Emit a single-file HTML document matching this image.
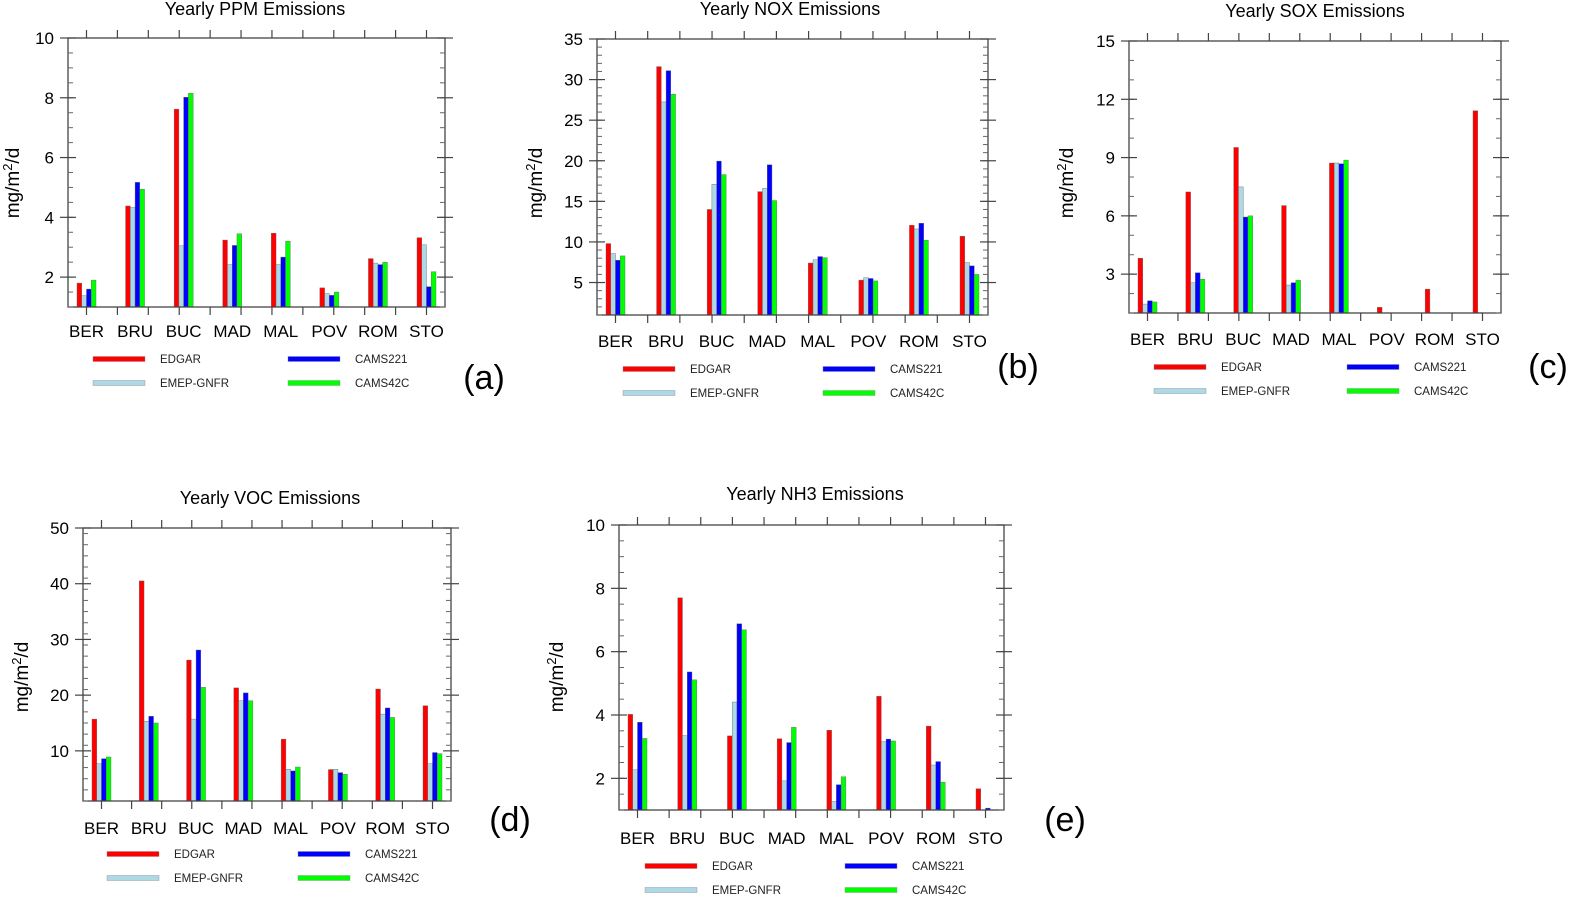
<!DOCTYPE html>
<html><head><meta charset="utf-8">
<style>
body{margin:0;background:#fff;}
svg{display:block;font-family:"Liberation Sans",sans-serif;}
</style></head>
<body>
<svg id="fig" width="1579" height="898" viewBox="0 0 1579 898" xmlns="http://www.w3.org/2000/svg"></svg>
<script>
const categories = ["BER","BRU","BUC","MAD","MAL","POV","ROM","STO"];
const seriesNames = ["EDGAR","EMEP-GNFR","CAMS221","CAMS42C"];
const seriesColors = ["#ff0000","#add8e6","#0000ff","#00ff00"];

const ppmEdgar = [1.8,4.38,7.62,3.24,3.47,1.64,2.62,3.32];
const ppmEmep  = [1.38,4.33,3.05,2.42,2.42,1.45,2.47,3.08];
const ppmC221  = [1.6,5.17,8.02,3.06,2.67,1.39,2.42,1.68];
const ppmC42   = [1.9,4.94,8.15,3.45,3.2,1.5,2.5,2.18];

const noxEdgar = [9.8,31.6,14,16.2,7.4,5.3,12.05,10.7];
const noxEmep  = [8.57,27.25,17.1,16.6,7.8,5.6,11.6,7.46];
const noxC221  = [7.75,31.1,19.96,19.5,8.2,5.5,12.3,7.05];
const noxC42   = [8.28,28.2,18.3,15.1,8.07,5.2,10.2,6.0];

const soxEdgar = [3.82,7.23,9.52,6.53,8.72,1.29,2.23,11.41];
const soxEmep  = [1.46,2.56,7.49,2.44,8.72,1,1,1.02];
const soxC221  = [1.63,3.07,5.94,2.56,8.68,1,1,1];
const soxC42   = [1.57,2.74,6.0,2.68,8.87,1,1,1];

const vocEdgar = [15.7,40.5,26.3,21.3,12.1,6.65,21.1,18.1];
const vocEmep  = [7.7,15.3,15.7,19,6.7,6.7,16.6,7.7];
const vocC221  = [8.6,16.2,28.1,20.4,6.4,6.1,17.7,9.7];
const vocC42   = [8.9,15,21.4,19,7.1,5.8,16,9.5];

const nh3Edgar = [4.02,7.7,3.34,3.25,3.52,4.59,3.65,1.67];
const nh3Emep  = [2.27,3.35,4.41,1.92,1.27,3.16,2.42,1];
const nh3C221  = [3.77,5.36,6.88,3.13,1.8,3.24,2.53,1.06];
const nh3C42   = [3.26,5.11,6.69,3.61,2.05,3.18,1.88,1];

const ppmTicks = [2,4,6,8,10];
const noxTicks = [5,10,15,20,25,30,35];
const soxTicks = [3,6,9,12,15];
const vocTicks = [10,20,30,40,50];
const nh3Ticks = [2,4,6,8,10];

const NS="http://www.w3.org/2000/svg";
const svg=document.getElementById('fig');
function mk(tag,attrs,parent){const e=document.createElementNS(NS,tag);for(const k in attrs)e.setAttribute(k,attrs[k]);(parent||svg).appendChild(e);return e;}

const panels=[
 {key:"ppm",title:"Yearly PPM Emissions",data:[ppmEdgar,ppmEmep,ppmC221,ppmC42],ticks:ppmTicks,minor:0.5,ymin:1,ymax:10,
  x0:68,x1:445,yTop:38,yBot:307,titleX:255,titleY:15,ylabX:19,ylabY:183,catY:337,legY:[359,383],legX:[93,288],tag:"(a)",tagX:484,tagY:389},
 {key:"nox",title:"Yearly NOX Emissions",data:[noxEdgar,noxEmep,noxC221,noxC42],ticks:noxTicks,minor:1,ymin:1,ymax:35,
  x0:597,x1:988,yTop:39,yBot:315,titleX:790,titleY:15,ylabX:542,ylabY:183,catY:347,legY:[369,393],legX:[623,823],tag:"(b)",tagX:1018,tagY:378},
 {key:"sox",title:"Yearly SOX Emissions",data:[soxEdgar,soxEmep,soxC221,soxC42],ticks:soxTicks,minor:1,ymin:1,ymax:15,
  x0:1129,x1:1501,yTop:41,yBot:313,titleX:1315,titleY:17,ylabX:1073,ylabY:183,catY:345,legY:[367,391],legX:[1154,1347],tag:"(c)",tagX:1548,tagY:378},
 {key:"voc",title:"Yearly VOC Emissions",data:[vocEdgar,vocEmep,vocC221,vocC42],ticks:vocTicks,minor:2,ymin:1,ymax:50,
  x0:83,x1:451,yTop:528,yBot:801,titleX:270,titleY:504,ylabX:28,ylabY:677,catY:834,legY:[854,878],legX:[107,298],tag:"(d)",tagX:510,tagY:831},
 {key:"nh3",title:"Yearly NH3 Emissions",data:[nh3Edgar,nh3Emep,nh3C221,nh3C42],ticks:nh3Ticks,minor:0.5,ymin:1,ymax:10,
  x0:619,x1:1004,yTop:525,yBot:810,titleX:815,titleY:500,ylabX:563,ylabY:677,catY:844,legY:[866,890],legX:[645,845],tag:"(e)",tagX:1065,tagY:831}
];

panels.forEach(p=>{
  const g=mk('g',{});
  
  
  const yS=v=>p.yBot-(v-p.ymin)/(p.ymax-p.ymin)*(p.yBot-p.yTop);
  const c0=p.x0+18.5, c1=p.x1-18.5;
  const xC=i=>c0+i*(c1-c0)/(categories.length-1);
  const t=mk('text',{x:p.titleX,y:p.titleY,'text-anchor':'middle','font-size':18,fill:'#000'},g);
  t.textContent=p.title;
  
  
  const bw=4.75;
  p.data.forEach((arr,s)=>{
    arr.forEach((v,i)=>{
      if(v<=p.ymin+0.001) return;
      const x=xC(i)-2*bw+s*bw;
      const r=mk('rect',{x:x,y:yS(v),width:bw,height:yS(p.ymin)-yS(v),fill:seriesColors[s],stroke:'#666','stroke-width':0.4},g);
      
      
    });
  });
  const f=mk('rect',{x:p.x0,y:p.yTop,width:p.x1-p.x0,height:p.yBot-p.yTop,fill:'none',stroke:'#444','stroke-width':1.3},g);
  
  
  const nT=12;
  for(let k=0;k<nT;k++){
    const x=c0+k*(c1-c0)/(nT-1);
    mk('line',{x1:x,x2:x,y1:p.yTop,y2:p.yTop-8,stroke:'#444','stroke-width':1.2},g);
    mk('line',{x1:x,x2:x,y1:p.yBot,y2:p.yBot+8,stroke:'#444','stroke-width':1.2},g);
  }
  for(let v=p.ymin;v<=p.ymax+1e-6;v+=p.minor){
    const y=yS(v);
    mk('line',{x1:p.x0,x2:p.x0+5,y1:y,y2:y,stroke:'#666','stroke-width':1},g);
    mk('line',{x1:p.x1,x2:p.x1-5,y1:y,y2:y,stroke:'#666','stroke-width':1},g);
  }
  p.ticks.forEach(v=>{
    const y=yS(v);
    mk('line',{x1:p.x0-8,x2:p.x0+8,y1:y,y2:y,stroke:'#444','stroke-width':1.2},g);
    mk('line',{x1:p.x1-8,x2:p.x1+8,y1:y,y2:y,stroke:'#444','stroke-width':1.2},g);
    const l=mk('text',{x:p.x0-14,y:y+6,'text-anchor':'end','font-size':17,fill:'#000'},g);
    l.textContent=v;
    
    
  });
  categories.forEach((c,i)=>{
    const l=mk('text',{x:xC(i),y:p.catY,'text-anchor':'middle','font-size':17,fill:'#000'},g);
    l.textContent=c;
    
    
  });
  const yl=mk('text',{x:0,y:0,'text-anchor':'middle','font-size':19,fill:'#000',transform:`translate(${p.ylabX},${p.ylabY}) rotate(-90)`},g);
  yl.innerHTML='mg/m<tspan font-size="13" dy="-7">2</tspan><tspan dy="7">/d</tspan>';
  
  
  const order=[[0,0,0],[1,1,0],[2,0,1],[3,1,1]];
  order.forEach(([s,row,col])=>{
    const lx=p.legX[col], ly=p.legY[row];
    const r=mk('rect',{x:lx,y:ly-2.5,width:52,height:5,fill:seriesColors[s],stroke:'#888','stroke-width':0.4},g);
    
    
    const tx=mk('text',{x:lx+67,y:ly+4,'font-size':11.5,fill:'#222'},g);
    tx.textContent=seriesNames[s];
    
    
  });
  const tg=mk('text',{x:p.tagX,y:p.tagY,'text-anchor':'middle','font-size':34,fill:'#000'},g);
  tg.textContent=p.tag;
  
  
});
</script>
</body></html>
